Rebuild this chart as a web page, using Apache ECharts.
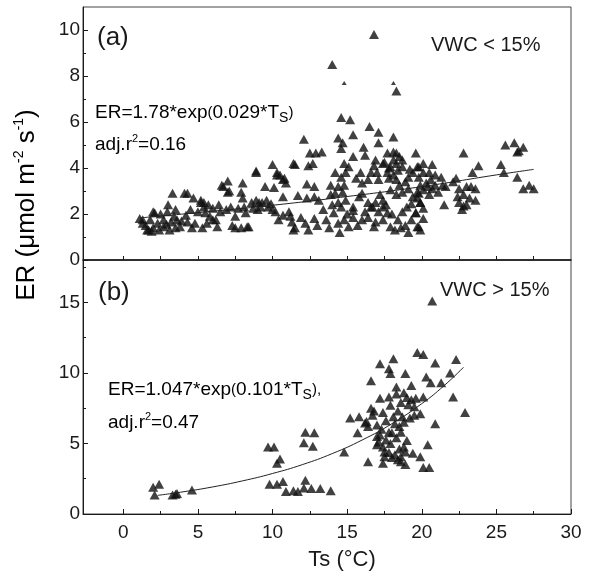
<!DOCTYPE html>
<html>
<head>
<meta charset="utf-8">
<script src="https://cdn.jsdelivr.net/npm/echarts@6/dist/echarts.min.js"></script>
<style>
html, body { margin: 0; padding: 0; background: #fff; }
#chart { width: 592px; height: 575px; }
</style>
</head>
<body>
<div id="chart"></div>
<script>
// panel (a) VWC < 15% : [Ts, ER]
var pointsA = [
  [1.1,1.8],[1.3,1.6],[1.3,1.75],[1.6,1.3],[1.7,1.3],[1.8,1.75],[2.0,2.1],[2.0,1.4],[2.1,2.05],[2.3,1.6],
  [2.7,1.75],[2.7,1.45],[2.95,2.1],[3.0,2.4],[3.2,1.65],[3.3,2.9],[3.5,2.2],[3.5,1.4],[3.6,1.75],[3.8,1.45],
  [4.1,2.9],[4.2,1.95],[4.3,1.65],[4.3,2.9],[4.7,2.7],[4.8,1.6],[5.0,2.1],[5.2,2.5],[5.2,2.6],[5.3,1.4],
  [5.4,2.3],[5.4,2.5],[5.5,2.05],[5.7,2.4],[5.8,1.9],[6.0,2.25],[6.0,1.75],[6.2,1.75],[6.3,1.45],[6.4,2.4],
  [6.6,3.25],[6.7,3.2],[6.9,2.2],[7.0,3.43],[7.0,2.95],[7.1,3.0],[7.3,1.5],[7.5,1.9],[7.5,1.4],[7.7,2.25],
  [7.9,2.95],[7.9,1.4],[8.0,3.35],[8.0,2.7],[8.1,2.3],[8.2,2.05],[8.3,1.45],[8.4,1.45],[8.7,2.25],[8.9,3.87],
  [8.9,3.8],[8.9,2.6],[9.1,2.5],[9.2,2.3],[9.3,2.5],[9.5,3.2],[9.6,2.6],[9.7,2.3],[10.0,4.15],[10.0,2.2],
  [10.1,3.15],[10.2,2.1],[10.3,3.8],[10.3,3.7],[10.4,1.75],[10.5,3.7],[10.7,3.5],[10.7,2.75],[10.7,1.95],[10.8,3.55],
  [10.9,3.35],[11.1,2.1],[11.2,1.9],[11.3,1.65],[11.4,4.2],[11.4,1.3],[11.5,4.15],[11.5,1.4],[11.7,2.8],[11.9,1.85],
  [12.1,5.25],[12.2,1.6],[12.3,3.3],[12.3,2.7],[12.4,4.1],[12.4,1.3],[12.5,4.65],[12.7,4.2],[12.8,3.2],[12.8,2.75],
  [12.8,1.8],[12.9,4.65],[13.0,1.5],[13.1,2.6],[13.3,4.7],[13.4,2.2],[13.6,1.75],[13.8,1.4],[13.9,3.25],[13.9,2.85],
  [14.0,8.5],[14.0,2.4],[14.1,2.05],[14.2,3.8],[14.2,2.9],[14.4,5.3],[14.4,3.2],[14.4,2.5],[14.4,1.6],[14.5,1.2],
  [14.6,6.2],[14.6,4.85],[14.6,3.6],[14.6,2.3],[14.7,5.1],[14.7,2.95],[14.8,4.2],[14.8,3.25],[14.8,1.75],[14.9,3.8],
  [14.9,2.6],[15.1,4.05],[15.1,1.45],[15.2,6.1],[15.4,5.45],[15.4,4.5],[15.4,2.3],[15.4,1.85],[15.4,2.15],[15.6,3.55],
  [15.8,2.75],[15.9,3.8],[16.0,3.35],[16.0,2.9],[16.0,1.75],[16.1,4.9],[16.2,4.55],[16.4,3.5],[16.4,2.5],[16.4,1.85],
  [16.5,5.8],[16.6,3.8],[16.6,2.3],[16.7,2.3],[16.8,9.8],[16.8,4.1],[16.8,1.45],[16.9,4.35],[16.9,2.5],[16.9,1.65],
  [17.0,3.8],[17.1,5.55],[17.1,5.1],[17.1,3.5],[17.1,2.1],[17.2,2.85],[17.4,4.2],[17.4,2.3],[17.4,2.6],[17.4,1.75],
  [17.5,4.25],[17.7,4.65],[17.7,3.8],[17.7,2.05],[17.8,4.0],[17.8,3.55],[17.9,4.05],[17.9,3.05],[17.9,1.45],[18.1,5.35],
  [18.1,4.7],[18.1,4.35],[18.1,3.7],[18.3,7.35],[18.3,4.65],[18.3,4.2],[18.3,3.5],[18.3,2.85],[18.4,1.75],[18.5,4.5],
  [18.5,3.25],[18.7,4.35],[18.7,4.05],[18.7,2.95],[18.7,2.1],[18.9,1.5],[19.1,3.6],[19.1,3.1],[19.1,1.2],[19.3,1.75],
  [19.4,3.8],[19.4,2.75],[19.6,4.65],[19.6,2.05],[19.6,2.05],[19.7,4.05],[19.7,2.95],[19.7,2.7],[19.7,1.45],[19.8,3.6],
  [19.8,4.05],[19.8,2.9],[19.8,1.45],[19.9,3.25],[19.9,2.5],[19.9,2.5],[19.9,1.3],[20.1,4.2],[20.1,3.8],[20.1,3.05],
  [20.1,2.25],[20.1,1.8],[20.3,3.35],[20.4,3.2],[20.5,3.8],[20.5,2.85],[20.6,3.5],[20.7,4.15],[20.7,3.1],[20.9,3.7],
  [20.9,3.25],[21.1,2.95],[21.3,3.6],[21.4,3.25],[21.5,2.4],[21.6,3.2],[22.1,3.4],[22.3,3.55],[22.4,2.75],[22.5,3.1],
  [22.5,2.5],[22.7,2.2],[22.8,4.65],[22.8,2.85],[22.8,2.35],[23.0,3.2],[23.0,2.4],[23.2,2.7],[23.3,3.2],[23.4,3.8],
  [23.6,3.1],[23.6,2.6],[23.8,4.1],[25.3,4.15],[25.5,3.8],[25.6,5.0],[26.2,5.1],[26.4,4.7],[26.4,3.6],[26.5,4.75],
  [26.8,4.9],[26.8,3.1],[27.2,3.25],[27.5,3.1],
  [1.5,1.5],[1.9,1.25],[2.4,1.3],[2.5,2.0],[2.9,1.55],[3.1,1.3],[3.4,1.9],[3.9,1.7],[4.5,2.2],[4.6,1.4],
  [5.6,1.6],[6.5,2.1],[7.2,2.3],[8.6,2.5],[9.0,2.2],[9.9,2.45],[15.0,2.0],[15.7,1.5],[16.2,2.1],[17.6,2.4],
  [18.0,2.0],[18.2,1.3],[18.6,1.4],[19.0,2.3],[19.3,2.45],[18.9,3.4],[19.2,3.95],[18.4,3.9]
];
var pointsAsmall = [[14.8,7.7],[18.1,7.7]];
var fitTsA = [1.1, 5, 10, 15, 20, 25, 27.5];
var fitErA = [1.83, 2.06, 2.38, 2.76, 3.19, 3.7, 3.94];

// panel (b) VWC > 15% : [Ts, ER]
var pointsB = [
  [2.0,1.9],[2.4,2.1],[2.1,1.35],[3.3,1.35],[3.5,1.4],[3.6,1.45],[4.6,1.7],[9.7,4.75],[10.1,4.75],[10.3,3.6],
  [10.5,3.9],[9.8,2.1],[10.3,2.1],[10.7,2.3],[10.9,1.6],[11.4,1.65],[11.7,1.6],[12.1,1.85],[12.6,1.8],[13.2,1.8],
  [13.9,1.65],[12.2,2.4],[12.2,5.8],[12.8,5.75],[12.1,5.05],[12.7,4.8],[14.8,4.4],[15.2,6.8],[15.8,6.9],[16.3,6.55],
  [15.7,5.75],[16.4,3.7],[17.4,3.6],[16.6,9.45],[17.2,10.65],[17.8,10.3],[17.9,9.95],[18.1,11.0],[18.9,9.95],[16.6,7.5],
  [16.8,7.3],[16.7,7.0],[17.2,8.2],[17.8,8.3],[18.3,9.0],[18.3,8.5],[19.3,9.1],[18.8,8.6],[19.0,8.25],[19.3,8.1],
  [19.6,8.2],[20.1,8.3],[18.6,7.9],[19.1,7.75],[19.5,7.6],[17.9,7.7],[17.4,7.2],[18.1,6.9],[18.7,6.9],[19.9,7.1],
  [16.2,6.45],[16.4,6.2],[17.0,6.3],[17.2,5.6],[17.8,5.8],[18.0,5.75],[18.5,6.2],[18.6,5.8],[18.8,6.5],[17.0,5.5],
  [17.1,5.1],[17.6,5.25],[17.4,4.75],[17.5,4.4],[17.8,4.35],[17.5,4.05],[18.0,4.0],[18.4,3.85],[18.6,4.05],[18.8,4.75],
  [18.9,4.4],[18.2,4.2],[18.9,3.5],[18.6,3.7],[19.9,4.05],[20.4,4.9],[20.1,3.3],[20.5,3.3],[20.9,6.4],[19.7,11.45],
  [20.1,11.3],[20.9,10.7],[22.3,10.95],[21.9,10.0],[20.3,9.7],[20.6,9.3],[21.3,9.3],[22.1,8.3],[22.9,7.2],[20.7,15.1],
  [17.3,6.0],[17.6,6.6],[18.2,6.4],[18.4,7.3],[19.2,6.8],[19.5,7.0],[17.9,5.0],[18.3,5.4],[19.0,5.2],[19.4,4.3],
  [18.5,4.6],[17.0,4.9]
];
var fitTsB = [2.3, 4, 6, 8, 10, 12, 14, 16, 18, 20, 21.5, 22.8];
var fitErB = [1.32, 1.57, 1.92, 2.35, 2.87, 3.5, 4.28, 5.24, 6.4, 7.82, 9.1, 10.4];

// ticks
var xLabels = [0, 5, 10, 15, 20, 25, 30];
var xMinor = [2.5, 7.5, 12.5, 17.5, 22.5, 27.5];
var xTopTicks = [0, 2.5, 5, 7.5, 10, 12.5, 15, 17.5, 20, 22.5, 25, 27.5];
var yLabelsA = [0, 2, 4, 6, 8, 10];
var yMinorA = [1, 3, 5, 7, 9];
var yLabelsB = [0, 5, 10, 15];
var yMinorB = [2.5, 7.5, 12.5, 17.5];

function zip(xs, ys) {
  return xs.map(function (x, i) { return [x, ys[i]]; });
}

var FONT = 'Liberation Sans, Arial, sans-serif';
var INK = '#1a1a1a';
var richEq = {
  n: { fontFamily: FONT, fontSize: 19, color: INK, lineHeight: 24 },
  p: { fontFamily: FONT, fontSize: 15, color: INK, lineHeight: 24 },
  sub: { fontFamily: FONT, fontSize: 14, color: INK, lineHeight: 12, verticalAlign: 'bottom' },
  sup: { fontFamily: FONT, fontSize: 11, color: INK, lineHeight: 14, verticalAlign: 'top' }
};

// overlay axis used only for minor ticks
function minorAxis(grid, min, max, pos, values) {
  return {
    gridIndex: grid, type: 'value', min: min, max: max, position: pos,
    axisLine: { show: false, onZero: false },
    axisTick: { show: true, inside: true, length: 3, customValues: values, lineStyle: { color: INK } },
    axisLabel: { show: false },
    splitLine: { show: false }
  };
}

var chart = echarts.init(document.getElementById('chart'));

var option = {
  animation: false,
  backgroundColor: '#fff',
  grid: [
    { left: 83, top: 7, width: 488, height: 253, show: true, borderColor: '#444', borderWidth: 1 },
    { left: 83, top: 260, width: 488, height: 254, show: true, borderColor: '#444', borderWidth: 1 }
  ],
  xAxis: [
    {
      gridIndex: 0, type: 'value', min: -2.7, max: 30, position: 'bottom',
      axisLine: { show: true, onZero: false, lineStyle: { color: INK, width: 1.5 } },
      axisTick: { show: true, inside: true, length: 4, customValues: xTopTicks, lineStyle: { color: INK } },
      axisLabel: { show: false },
      splitLine: { show: false }
    },
    {
      gridIndex: 1, type: 'value', min: -2.7, max: 30, position: 'bottom',
      axisLine: { show: true, onZero: false, lineStyle: { color: INK, width: 1 } },
      axisTick: { show: true, inside: true, length: 5, customValues: xLabels, lineStyle: { color: INK } },
      axisLabel: { customValues: xLabels, fontFamily: FONT, fontSize: 19, color: INK, margin: 9 },
      splitLine: { show: false }
    },
    minorAxis(1, -2.7, 30, 'bottom', xMinor)
  ],
  yAxis: [
    {
      gridIndex: 0, type: 'value', min: 0, max: 11, position: 'left',
      axisLine: { show: true, onZero: false, lineStyle: { color: INK } },
      axisTick: { show: true, inside: true, length: 5, customValues: yLabelsA, lineStyle: { color: INK } },
      axisLabel: { customValues: yLabelsA, fontFamily: FONT, fontSize: 19, color: INK, margin: 3 },
      splitLine: { show: false }
    },
    minorAxis(0, 0, 11, 'left', yMinorA),
    {
      gridIndex: 1, type: 'value', min: 0, max: 18, position: 'left',
      axisLine: { show: true, onZero: false, lineStyle: { color: INK } },
      axisTick: { show: true, inside: true, length: 5, customValues: yLabelsB, lineStyle: { color: INK } },
      axisLabel: { customValues: yLabelsB, fontFamily: FONT, fontSize: 19, color: INK, margin: 3 },
      splitLine: { show: false }
    },
    minorAxis(1, 0, 18, 'left', yMinorB)
  ],
  series: [
    {
      type: 'scatter', xAxisIndex: 0, yAxisIndex: 0, data: pointsA,
      symbol: 'triangle', symbolSize: [10, 9], itemStyle: { color: '#111' }, silent: true
    },
    {
      type: 'scatter', xAxisIndex: 0, yAxisIndex: 0, data: pointsAsmall,
      symbol: 'triangle', symbolSize: [5, 4], itemStyle: { color: '#111' }, silent: true
    },
    {
      type: 'line', xAxisIndex: 0, yAxisIndex: 0, data: zip(fitTsA, fitErA),
      smooth: true, showSymbol: false, lineStyle: { color: '#222', width: 1 }, silent: true
    },
    {
      type: 'scatter', xAxisIndex: 1, yAxisIndex: 2, data: pointsB,
      symbol: 'triangle', symbolSize: [10, 9], itemStyle: { color: '#111' }, silent: true
    },
    {
      type: 'line', xAxisIndex: 1, yAxisIndex: 2, data: zip(fitTsB, fitErB),
      smooth: true, showSymbol: false, lineStyle: { color: '#222', width: 1 }, silent: true
    }
  ],
  graphic: [
    { type: 'text', x: 97, y: 25, style: { text: '(a)', font: '26px ' + FONT, fill: INK } },
    { type: 'text', x: 98, y: 280, style: { text: '(b)', font: '26px ' + FONT, fill: INK } },
    { type: 'text', x: 431, y: 35, style: { text: 'VWC < 15%', font: '20px ' + FONT, fill: INK } },
    { type: 'text', x: 440, y: 280, style: { text: 'VWC > 15%', font: '20px ' + FONT, fill: INK } },
    {
      type: 'text', x: 95, y: 101,
      style: { text: '{n|ER=1.78*exp}{p|(}{n|0.029*T}{sub|S}{p|)}', rich: richEq }
    },
    {
      type: 'text', x: 95, y: 133,
      style: { text: '{n|adj.r}{sup|2}{n|=0.16}', rich: richEq }
    },
    {
      type: 'text', x: 108, y: 378,
      style: { text: '{n|ER=1.047*exp}{p|(}{n|0.101*T}{sub|S}{p|),}', rich: richEq }
    },
    {
      type: 'text', x: 108, y: 411,
      style: { text: '{n|adj.r}{sup|2}{n|=0.47}', rich: richEq }
    },
    {
      type: 'text', x: 342, y: 560,
      style: { text: 'Ts (°C)', font: '22px ' + FONT, fill: INK, align: 'center', verticalAlign: 'middle' }
    },
    {
      type: 'text', x: 27, y: 205, rotation: Math.PI / 2,
      style: {
        text: '{n|ER (μmol m}{sup|-2}{n| s}{sup|-1}{n|)}',
        align: 'center', verticalAlign: 'middle',
        rich: {
          n: { fontFamily: FONT, fontSize: 26, color: INK, lineHeight: 30 },
          sup: { fontFamily: FONT, fontSize: 14, color: INK, lineHeight: 16, verticalAlign: 'top' }
        }
      }
    }
  ]
};

chart.setOption(option);
</script>
</body>
</html>
